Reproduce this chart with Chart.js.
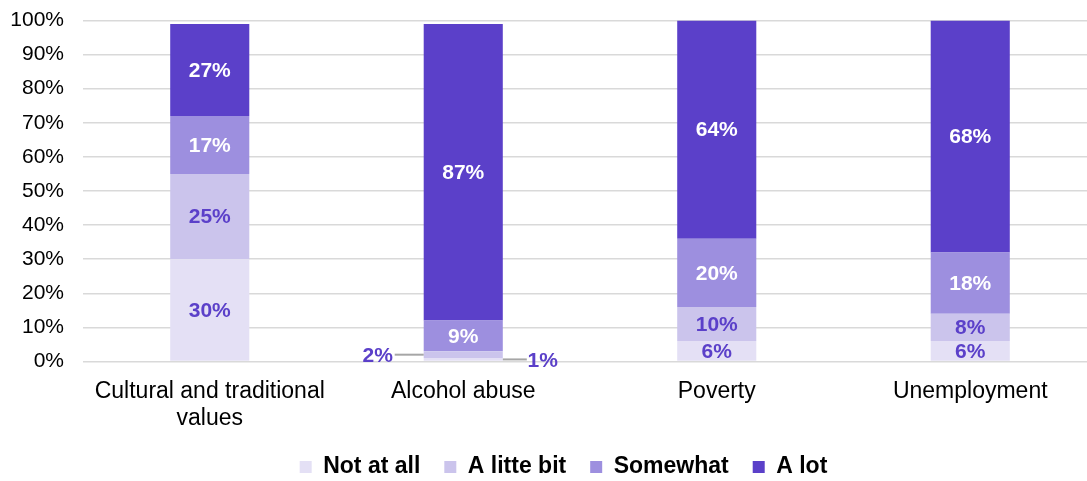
<!DOCTYPE html>
<html>
<head>
<meta charset="utf-8">
<script src="https://cdn.jsdelivr.net/npm/chart.js@4"></script>
<style>
  html, body { margin: 0; padding: 0; background: #fff; overflow: hidden; }
  #wrap { position: relative; width: 1100px; height: 481px; }
</style>
</head>
<body>
<div id="wrap"><canvas id="c"></canvas></div>
<script>
const categories = [["Cultural and traditional", "values"], "Alcohol abuse", "Poverty", "Unemployment"];
const seriesNames = ["Not at all", "A litte bit", "Somewhat", "A lot"];
const notAtAll = [30, 1, 6, 6];
const aLittleBit = [25, 2, 10, 8];
const somewhat = [17, 9, 20, 18];
const aLot = [27, 87, 64, 68];
const yTicks = [0, 10, 20, 30, 40, 50, 60, 70, 80, 90, 100];

const colors = ["#E4E0F5", "#CBC4EC", "#9D8FDF", "#5B40C9"];
const labelColors = ["#5B40C9", "#5B40C9", "#FFFFFF", "#FFFFFF"];
const smallSide = { 0: "right", 1: "left" };

const FONT = "'Liberation Sans', Arial, sans-serif";
const LEGEND_PAD = 24;
const LEGEND_FONT = 23;
const LEGEND_H = 40;

const dataLabels = {
  id: "dataLabels",
  afterDatasetsDraw(chart) {
    const ctx = chart.ctx;
    ctx.save();
    ctx.font = "bold 21px " + FONT;
    ctx.textAlign = "center";
    ctx.textBaseline = "middle";
    chart.data.datasets.forEach((ds, di) => {
      const meta = chart.getDatasetMeta(di);
      meta.data.forEach((el, i) => {
        const v = ds.data[i];
        const p = el.getProps(["x", "y", "base", "width"], true);
        const cy = (p.y + p.base) / 2;
        const txt = v + "%";
        ctx.fillStyle = labelColors[di];
        if (v >= 5) {
          ctx.fillText(txt, p.x, cy + 1);
        } else {
          const side = smallSide[di] || "right";
          ctx.strokeStyle = "#A6A6A6";
          ctx.lineWidth = 2;
          ctx.beginPath();
          if (side === "left") {
            const edge = p.x - p.width / 2;
            ctx.moveTo(edge, cy);
            ctx.lineTo(edge - 29, cy);
            ctx.stroke();
            ctx.fillText(txt, edge - 46, cy + 2);
          } else {
            const edge = p.x + p.width / 2;
            ctx.moveTo(edge, cy);
            ctx.lineTo(edge + 24, cy);
            ctx.stroke();
            ctx.fillText(txt, edge + 40, cy + 2);
          }
        }
      });
    });
    ctx.restore();
  }
};

const legendFix = {
  id: "legendFix",
  beforeLayout(chart) {
    const lg = chart.legend;
    if (lg && !lg._patched) {
      const orig = lg.fit.bind(lg);
      lg.fit = function () { orig(); this.height = LEGEND_H; };
      lg._patched = true;
    }
  },
  afterLayout(chart) {
    const lg = chart.legend;
    if (lg) {
      const dx = 15;
      const dy = 467 - (lg.top + LEGEND_PAD + LEGEND_FONT / 2);
      lg.left += dx; lg.right += dx;
      lg.top += dy;
      lg.bottom = chart.height;
      lg.height = lg.bottom - lg.top;
    }
  }
};

new Chart(document.getElementById("c"), {
  type: "bar",
  data: {
    labels: categories,
    datasets: [
      { label: seriesNames[0], data: notAtAll, backgroundColor: colors[0] },
      { label: seriesNames[1], data: aLittleBit, backgroundColor: colors[1] },
      { label: seriesNames[2], data: somewhat, backgroundColor: colors[2] },
      { label: seriesNames[3], data: aLot, backgroundColor: colors[3] }
    ]
  },
  options: {
    responsive: true,
    maintainAspectRatio: false,
    animation: false,
    devicePixelRatio: 1,
    layout: { padding: { left: 0, right: 3, top: 20.5, bottom: 2 } },
    datasets: { bar: { categoryPercentage: 1, barPercentage: 0.312, borderWidth: 0 } },
    scales: {
      x: {
        stacked: true,
        afterFit(scale) {
          scale.height = 481 - 361.5 - 2 - LEGEND_H;
          scale.paddingTop = 0; scale.paddingBottom = 0;
        },
        grid: { display: false, drawTicks: false },
        border: { display: false },
        ticks: { color: "#000", font: { family: FONT, size: 23 }, padding: 16, maxRotation: 0, autoSkip: false }
      },
      y: {
        stacked: true,
        min: 0, max: 100,
        afterBuildTicks(scale) { scale.ticks = yTicks.map(v => ({ value: v })); },
        afterFit(scale) {
          scale.width = 83;
          scale.paddingTop = 0; scale.paddingBottom = 0;
        },
        grid: { color: "#D9D9D9", lineWidth: 1.5, drawTicks: false },
        border: { display: false },
        ticks: { color: "#000", font: { family: FONT, size: 21 }, padding: 19, callback: v => v + "%" }
      }
    },
    plugins: {
      tooltip: { enabled: false },
      legend: {
        position: "bottom",
        labels: {
          boxWidth: 12, boxHeight: 12, padding: LEGEND_PAD, color: "#000",
          font: { family: FONT, size: LEGEND_FONT, weight: "bold" }
        }
      }
    }
  },
  plugins: [dataLabels, legendFix]
});
</script>
</body>
</html>
